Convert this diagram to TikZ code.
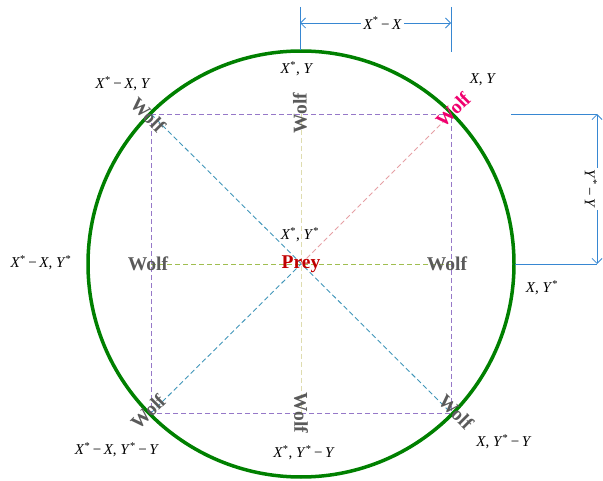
\documentclass[tikz,border=0pt]{standalone}
\usepackage{fontspec}
\setmainfont{Liberation Serif}
\usetikzlibrary{arrows.meta}
\newcommand{\Xs}{\textit{X}\textsuperscript{*}}
\newcommand{\Ys}{\textit{Y}\textsuperscript{*}}
\newcommand{\Xv}{\textit{X}}
\newcommand{\Yv}{\textit{Y}}
\newcommand{\mn}{\,−\,}
\definecolor{circgreen}{RGB}{0,128,0}
\definecolor{sqpurple}{RGB}{150,120,200}
\definecolor{diagteal}{RGB}{65,150,185}
\definecolor{diagpink}{RGB}{230,160,165}
\definecolor{horgreen}{RGB}{160,190,80}
\definecolor{verbeige}{RGB}{222,220,175}
\definecolor{dimblue}{RGB}{55,135,210}
\definecolor{wolfgray}{RGB}{90,90,90}
\definecolor{preyred}{RGB}{192,0,0}
\definecolor{wolfpink}{RGB}{240,0,110}
\tikzset{
  guide/.style={line width=0.9pt, dash pattern=on 5pt off 3pt},
  wolf/.style={font=\fontsize{19.5}{19.5}\selectfont\bfseries, text=wolfgray, inner sep=0pt},
  coordlbl/.style={font=\fontsize{15}{15}\selectfont, inner sep=0pt},
  dimline/.style={draw=dimblue, line width=0.8pt},
  dimarrow/.style={dimline, {Straight Barb[length=5pt,width=10pt]}-{Straight Barb[length=5pt,width=10pt]}},
}
\begin{document}
\begin{tikzpicture}[x=1pt,y=-1pt]
\useasboundingbox (0,0) rectangle (603,481);
% key points
\coordinate (C) at (301,264);
\coordinate (TL) at (151,114);
\coordinate (TR) at (451,114);
\coordinate (BL) at (151,413);
\coordinate (BR) at (451,413);
\coordinate (T) at (301,114);
\coordinate (B) at (301,413);
\coordinate (L) at (151,264);
\coordinate (R) at (451,264);
% guides
\draw[guide, draw=sqpurple] (TL) -- (TR) -- (BR) -- (BL) -- cycle;
\draw[guide, draw=verbeige] (T) -- (B);
\draw[guide, draw=horgreen] (L) -- (R);
\draw[guide, draw=diagteal] (TL) -- (BR);
\draw[guide, draw=diagteal] (BL) -- (C);
\draw[guide, draw=diagpink] (C) -- (TR);
% circle
\draw[circgreen, line width=3.5pt] (C) circle[radius=213];
% top dimension
\coordinate (tdA) at (300,7);
\coordinate (tdA2) at (300,50);
\coordinate (tdB) at (451,7);
\coordinate (tdB2) at (451,52);
\coordinate (taA) at (300,23);
\coordinate (taB) at (451,23);
\draw[dimline] (tdA) -- (tdA2);
\draw[dimline] (tdB) -- (tdB2);
\draw[dimarrow] (taA) -- node[coordlbl, fill=white, inner sep=2pt, xshift=7pt] (tdl) {\Xs\mn\Xv} (taB);
% right dimension
\coordinate (rdA) at (511,114);
\coordinate (rdA2) at (597,114);
\coordinate (rdB) at (515,264);
\coordinate (rdB2) at (597,264);
\draw[dimline] (rdA) -- (rdA2);
\draw[dimline] (rdB) -- (rdB2);
\draw[dimarrow] (rdA2) -- node[coordlbl, fill=white, inner sep=2pt, rotate=-90, yshift=-6pt] (rdl) {\Ys\mn\Yv} (rdB2);
% wolves and prey
\node[wolf, rotate=-45] (w1) at (148,115) {Wolf};
\node[wolf, rotate=90] (w2) at (300,113) {Wolf};
\node[wolf, rotate=45, text=wolfpink] (w3) at (453,110) {Wolf};
\node[wolf] (w4) at (148,264) {Wolf};
\node[wolf] (w5) at (447,264) {Wolf};
\node[wolf, rotate=45] (w6) at (148,412) {Wolf};
\node[wolf, rotate=-90] (w7) at (301,413) {Wolf};
\node[wolf, rotate=-45] (w8) at (456,412) {Wolf};
\node[wolf, text=preyred] (prey) at (301,264) {Prey};
% coordinate labels
\node[coordlbl] (l1) at (123,84) {\Xs\mn\Xv, \Yv};
\node[coordlbl] (l2) at (297,69) {\Xs, \Yv};
\node[coordlbl] (l3) at (483,80) {\Xv, \Yv};
\node[coordlbl] (l4) at (300,235) {\Xs, \Ys};
\node[coordlbl] (l5) at (41,263) {\Xs\mn\Xv, \Ys};
\node[coordlbl] (l6) at (542,288) {\Xv, \Ys};
\node[coordlbl] (l7) at (117,450) {\Xs\mn\Xv, \Ys\mn\Yv};
\node[coordlbl] (l8) at (304,453) {\Xs, \Ys\mn\Yv};
\node[coordlbl] (l9) at (504,442) {\Xv, \Ys\mn\Yv};
\end{tikzpicture}
\end{document}
